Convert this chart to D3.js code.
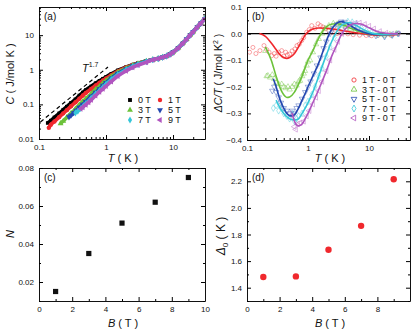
<!DOCTYPE html>
<html>
<head>
<meta charset="utf-8">
<script src="https://cdn.jsdelivr.net/npm/d3@7"></script>
<style>
body { margin: 0; background: #fff; }
text { font-family: Arial, "Liberation Sans", sans-serif; fill: #111; }
</style>
</head>
<body>
<svg width="415" height="332"></svg>
<script>
// ---------- panel (a): C vs T ----------
var fieldsA = ["0 T", "1 T", "3 T", "5 T", "7 T", "9 T"];
var t0T = [0.135, 0.15, 0.17, 0.2, 0.23, 0.26, 0.3, 0.35, 0.4, 0.45, 0.5, 0.6, 0.7, 0.8, 0.9, 1.0, 1.2, 1.5, 2.0, 2.5, 3.0, 4.0];
var c0T = [0.029, 0.034, 0.042, 0.055, 0.07, 0.086, 0.11, 0.14, 0.18, 0.22, 0.26, 0.33, 0.41, 0.48, 0.55, 0.62, 0.76, 0.96, 1.2, 1.4, 1.55, 1.8];
var t1T = [0.14, 0.15, 0.17, 0.2, 0.23, 0.26, 0.3, 0.35, 0.4, 0.45, 0.5, 0.6, 0.7, 0.8, 0.9, 1.0, 1.2, 1.5, 2.0, 2.5, 3.0, 4.0];
var c1T = [0.021, 0.026, 0.032, 0.043, 0.055, 0.068, 0.088, 0.115, 0.145, 0.18, 0.215, 0.28, 0.35, 0.42, 0.49, 0.56, 0.7, 0.9, 1.16, 1.37, 1.53, 1.8];
var t3T = [0.21, 0.23, 0.26, 0.3, 0.35, 0.4, 0.45, 0.5, 0.6, 0.7, 0.8, 0.9, 1.0, 1.2, 1.5, 2.0, 2.5, 3.0, 4.0];
var c3T = [0.028, 0.033, 0.042, 0.055, 0.074, 0.097, 0.12, 0.145, 0.2, 0.27, 0.33, 0.41, 0.48, 0.63, 0.84, 1.1, 1.33, 1.5, 1.78];
var t5T = [0.28, 0.3, 0.33, 0.36, 0.4, 0.45, 0.5, 0.6, 0.7, 0.8, 0.9, 1.0, 1.2, 1.5, 2.0, 2.5, 3.0, 4.0];
var c5T = [0.043, 0.048, 0.057, 0.067, 0.082, 0.1, 0.12, 0.17, 0.22, 0.28, 0.35, 0.42, 0.57, 0.78, 1.05, 1.28, 1.46, 1.75];
var t7T = [0.35, 0.38, 0.42, 0.46, 0.5, 0.6, 0.7, 0.8, 0.9, 1.0, 1.2, 1.5, 2.0, 2.5, 3.0, 4.0];
var c7T = [0.057, 0.064, 0.076, 0.09, 0.105, 0.15, 0.2, 0.25, 0.31, 0.38, 0.52, 0.72, 1.0, 1.24, 1.43, 1.72];
var t9T = [0.42, 0.45, 0.5, 0.55, 0.6, 0.7, 0.8, 0.9, 1.0, 1.2, 1.5, 2.0, 2.5, 3.0, 4.0];
var c9T = [0.075, 0.083, 0.098, 0.115, 0.135, 0.18, 0.23, 0.28, 0.34, 0.46, 0.66, 0.93, 1.17, 1.36, 1.65];
// above ~5 K all fields fall on one curve
var tHigh = [5, 6, 7, 8, 9, 10, 12, 14, 16, 18, 20, 23, 26, 30];
var cHigh = [1.95, 2.1, 2.3, 2.5, 2.8, 3.2, 4.3, 5.8, 7.7, 10, 12.5, 17, 22, 30];
// T^1.7 guide line end points
var tGuide = [0.105, 1.07];
var cGuide = [0.031, 1.2];

// ---------- panel (b): dC/T vs T ----------
var labelsB = ["1 T - 0 T", "3 T - 0 T", "5 T - 0 T", "7 T - 0 T", "9 T - 0 T"];
var tPts1 = [0.11, 0.125, 0.14, 0.163, 0.19, 0.21, 0.23, 0.254, 0.28, 0.3, 0.33, 0.37, 0.4, 0.43, 0.46, 0.5, 0.55, 0.61, 0.66, 0.72, 0.79, 0.85, 0.95, 1.05, 1.15, 1.3, 1.46, 1.6, 1.75, 1.9, 2.2, 2.5, 3, 3.5, 4.5, 5.5, 7, 9, 11, 14, 18, 23, 30];
var vPts1 = [-0.07, -0.052, -0.075, -0.064, -0.045, -0.06, -0.07, -0.083, -0.075, -0.085, -0.07, -0.064, -0.085, -0.07, -0.08, -0.077, -0.065, -0.058, -0.045, -0.04, -0.026, -0.015, 0.005, 0.015, 0.03, 0.02, 0.037, 0.03, 0.025, 0.018, 0.01, 0.005, 0.0, 0.0, -0.001, -0.004, -0.006, -0.007, -0.008, -0.007, -0.008, -0.007, 0.0];
var tFit1 = [0.16, 0.2, 0.25, 0.3, 0.35, 0.4, 0.45, 0.5, 0.6, 0.7, 0.8, 0.9, 1.0, 1.2, 1.5, 2, 3, 4, 6, 10, 15, 20, 30];
var vFit1 = [0.0, -0.01, -0.035, -0.06, -0.08, -0.09, -0.093, -0.09, -0.075, -0.05, -0.025, -0.005, 0.007, 0.017, 0.021, 0.02, 0.015, 0.01, 0.003, -0.003, -0.006, -0.006, -0.002];
var tPts3 = [0.2, 0.21, 0.22, 0.24, 0.26, 0.28, 0.3, 0.33, 0.37, 0.4, 0.43, 0.47, 0.5, 0.55, 0.6, 0.65, 0.7, 0.74, 0.8, 0.85, 0.89, 0.95, 1.0, 1.08, 1.2, 1.35, 1.5, 1.7, 1.9, 2.2, 2.6, 3, 3.5, 4.2, 5, 6, 8, 10, 13, 17, 22, 28];
var vPts3 = [-0.065, -0.16, -0.158, -0.165, -0.155, -0.17, -0.185, -0.19, -0.19, -0.2, -0.205, -0.2, -0.21, -0.2, -0.19, -0.195, -0.18, -0.177, -0.16, -0.15, -0.14, -0.12, -0.105, -0.1, -0.07, -0.04, -0.02, 0.0, 0.02, 0.03, 0.038, 0.036, 0.03, 0.025, 0.018, 0.012, 0.005, 0.0, -0.002, -0.004, -0.003, 0.0];
var tFit3 = [0.2, 0.25, 0.3, 0.35, 0.4, 0.45, 0.5, 0.6, 0.7, 0.8, 0.9, 1.0, 1.2, 1.4, 1.7, 2, 2.5, 3, 4, 5, 7, 10, 15, 20, 30];
var vFit3 = [-0.05, -0.1, -0.16, -0.205, -0.23, -0.24, -0.238, -0.22, -0.19, -0.16, -0.127, -0.1, -0.065, -0.03, 0.005, 0.025, 0.036, 0.037, 0.03, 0.02, 0.008, 0.0, -0.003, -0.002, 0.0];
var tPts5 = [0.26, 0.28, 0.3, 0.33, 0.36, 0.4, 0.45, 0.5, 0.55, 0.6, 0.65, 0.7, 0.8, 0.9, 1.0, 1.1, 1.25, 1.4, 1.6, 1.8, 2.0, 2.3, 2.6, 3, 3.5, 4, 4.7, 5.5, 6.5, 8, 10, 13, 18, 24, 30];
var vPts5 = [-0.215, -0.2, -0.22, -0.24, -0.26, -0.28, -0.29, -0.3, -0.29, -0.3, -0.28, -0.27, -0.245, -0.22, -0.2, -0.18, -0.15, -0.12, -0.09, -0.055, -0.03, 0.0, 0.02, 0.035, 0.045, 0.044, 0.035, 0.025, 0.015, 0.005, -0.002, -0.008, -0.012, -0.006, 0.0];
var tFit5 = [0.27, 0.3, 0.35, 0.4, 0.45, 0.5, 0.55, 0.6, 0.7, 0.8, 0.9, 1.0, 1.2, 1.5, 1.8, 2.1, 2.5, 3, 3.5, 4, 5, 6, 8, 10, 15, 20, 30];
var vFit5 = [-0.17, -0.2, -0.25, -0.28, -0.3, -0.308, -0.31, -0.305, -0.28, -0.25, -0.225, -0.2, -0.16, -0.11, -0.06, -0.015, 0.02, 0.04, 0.045, 0.043, 0.03, 0.018, 0.006, 0.0, -0.004, -0.003, 0.0];
var tPts7 = [0.27, 0.3, 0.33, 0.37, 0.4, 0.45, 0.5, 0.55, 0.6, 0.65, 0.7, 0.8, 0.9, 1.0, 1.15, 1.3, 1.5, 1.7, 2.0, 2.3, 2.7, 3.2, 3.8, 4.5, 5.3, 6.2, 7.5, 9, 11, 14, 18, 24, 30];
var vPts7 = [-0.28, -0.27, -0.29, -0.28, -0.3, -0.31, -0.32, -0.3, -0.33, -0.32, -0.31, -0.3, -0.27, -0.255, -0.23, -0.2, -0.16, -0.13, -0.085, -0.05, -0.015, 0.015, 0.035, 0.045, 0.043, 0.035, 0.022, 0.012, 0.004, -0.004, -0.008, -0.005, 0.0];
var tFit7 = [0.3, 0.35, 0.4, 0.5, 0.6, 0.7, 0.8, 0.9, 1.0, 1.2, 1.5, 2, 2.5, 3, 3.5, 4, 4.5, 5, 6, 8, 10, 15, 20, 30];
var vFit7 = [-0.25, -0.28, -0.3, -0.32, -0.325, -0.32, -0.3, -0.28, -0.26, -0.22, -0.16, -0.08, -0.025, 0.01, 0.03, 0.038, 0.042, 0.04, 0.032, 0.016, 0.005, -0.003, -0.004, 0.0];
var tPts9 = [0.5, 0.55, 0.6, 0.63, 0.68, 0.75, 0.85, 0.95, 1.05, 1.2, 1.35, 1.5, 1.7, 2.0, 2.3, 2.7, 3.1, 3.6, 4.2, 5, 6, 7, 8.5, 10, 12, 15, 19, 24, 30];
var vPts9 = [-0.3, -0.31, -0.35, -0.36, -0.34, -0.335, -0.33, -0.31, -0.29, -0.265, -0.24, -0.215, -0.18, -0.14, -0.1, -0.06, -0.03, 0.0, 0.02, 0.035, 0.04, 0.04, 0.035, 0.028, 0.018, 0.008, 0.002, -0.002, 0.0];
var tFit9 = [0.55, 0.6, 0.65, 0.7, 0.8, 0.9, 1.0, 1.2, 1.5, 2.0, 2.5, 3, 3.5, 4, 5, 6, 7, 8, 10, 13, 18, 25, 30];
var vFit9 = [-0.3, -0.33, -0.343, -0.347, -0.34, -0.32, -0.3, -0.26, -0.21, -0.14, -0.08, -0.04, -0.005, 0.015, 0.033, 0.038, 0.037, 0.033, 0.022, 0.01, 0.002, -0.001, 0.0];

// ---------- panels (c) and (d) ----------
var fieldB = [1, 3, 5, 7, 9];
var nValues = [0.015, 0.035, 0.051, 0.062, 0.075];
var gapValues = [1.48, 1.485, 1.685, 1.865, 2.215];

// ---------- styles ----------
var colors = ["#000000", "#f0282d", "#6cc23a", "#2347b0", "#35c6d8", "#b055bf"];
var shapes = ["square", "circle", "up", "down", "diamond", "left"];

var svg = d3.select("svg");

var symType = {square: d3.symbolSquare, circle: d3.symbolCircle, up: d3.symbolTriangle,
  down: d3.symbolTriangle, diamond: d3.symbolDiamond, left: d3.symbolTriangle};
var symRot = {down: 180, left: -90};

function marker(sel, kind, size, cx, cy) {
  sel.attr("d", d3.symbol().type(symType[kind]).size(size)())
    .attr("transform", function (d, i) {
      return "translate(" + cx(d, i) + "," + cy(d, i) + ")" + (symRot[kind] ? " rotate(" + symRot[kind] + ")" : "");
    });
}

function drawAxes(x, y, xMajor, xMinor, yMajor, yMinor, xFmt, yFmt) {
  var x0 = x.range()[0], x1 = x.range()[1];
  var yb = y.range()[0], yt = y.range()[1];
  var specs = [
    [d3.axisBottom(x), "translate(0," + yb + ")", xMajor, xMinor, xFmt],
    [d3.axisTop(x), "translate(0," + yt + ")", xMajor, xMinor, ""],
    [d3.axisLeft(y), "translate(" + x0 + ",0)", yMajor, yMinor, yFmt],
    [d3.axisRight(y), "translate(" + x1 + ",0)", yMajor, yMinor, ""]
  ];
  specs.forEach(function (s) {
    var ax = s[0].tickValues(s[2]).tickFormat(s[4]).tickSize(-4).tickSizeOuter(0).tickPadding(5);
    var g = svg.append("g").attr("transform", s[1]).call(ax);
    g.attr("font-size", 8).attr("font-family", "Arial, 'Liberation Sans', sans-serif");
    g.selectAll("text").attr("fill", "#222");
    var m = s[0].tickValues(s[3]).tickFormat("").tickSize(-2).tickSizeOuter(0);
    var gm = svg.append("g").attr("transform", s[1]).call(m);
    gm.select(".domain").remove();
  });
  svg.selectAll(".domain").attr("stroke", "#111").attr("stroke-width", 1);
}

function addText(x, y, str, size, anchor, rotate) {
  var t = svg.append("text").attr("font-size", size).attr("text-anchor", anchor || "start");
  if (rotate) t.attr("transform", "translate(" + x + "," + y + ") rotate(" + rotate + ")");
  else t.attr("x", x).attr("y", y);
  return t.text(str);
}

function clip(id, x, y) {
  svg.append("clipPath").attr("id", id).append("rect")
    .attr("x", x.range()[0]).attr("y", y.range()[1])
    .attr("width", x.range()[1] - x.range()[0]).attr("height", y.range()[0] - y.range()[1]);
  return svg.append("g").attr("clip-path", "url(#" + id + ")");
}

// ========== (a) ==========
var xa = d3.scaleLog().domain([0.1, 30]).range([39, 205]);
var ya = d3.scaleLog().domain([0.01, 65]).range([139, 7]);
var gA = clip("clipA", xa, ya);
var seriesA = [[t0T, c0T], [t1T, c1T], [t3T, c3T], [t5T, c5T], [t7T, c7T], [t9T, c9T]];
seriesA.forEach(function (s, k) {
  var pts = s[0].map(function (t, i) { return [t, s[1][i]]; })
    .concat(tHigh.map(function (t, i) { return [t, cHigh[i]]; }));
  gA.append("path").datum(pts)
    .attr("fill", "none").attr("stroke", colors[k]).attr("stroke-width", 3.6)
    .attr("d", d3.line().x(function (d) { return xa(d[0]); }).y(function (d) { return ya(d[1]); }).curve(d3.curveMonotoneX));
  gA.selectAll(null).data(pts).enter().append("path")
    .attr("fill", colors[k])
    .call(marker, shapes[k], k == 0 ? 13 : 15, function (d) { return xa(d[0]); }, function (d) { return ya(d[1]); });
});
gA.append("line")
  .attr("x1", xa(tGuide[0])).attr("y1", ya(cGuide[0]))
  .attr("x2", xa(tGuide[1])).attr("y2", ya(cGuide[1]))
  .attr("stroke", "#000").attr("stroke-width", 1.2).attr("stroke-dasharray", "4,3");
drawAxes(xa, ya, [0.1, 1, 10], [0.2, 0.3, 0.4, 0.5, 0.6, 0.7, 0.8, 0.9, 2, 3, 4, 5, 6, 7, 8, 9, 20, 30],
  [0.01, 0.1, 1, 10], [0.02, 0.03, 0.04, 0.05, 0.06, 0.07, 0.08, 0.09, 0.2, 0.3, 0.4, 0.5, 0.6, 0.7, 0.8, 0.9, 2, 3, 4, 5, 6, 7, 8, 9, 20, 30, 40, 50, 60],
  function (d) { return String(d); }, function (d) { return String(d); });

var tl = svg.append("text").attr("x", 82).attr("y", 72).attr("font-size", 11);
tl.append("tspan").attr("font-style", "italic").text("T");
tl.append("tspan").attr("font-size", 7).attr("dy", -5).text("1.7");

fieldsA.forEach(function (f, k) {
  var col = k % 2, row = Math.floor(k / 2);
  var mx = col ? 160 : 130, my = 100 + row * 10;
  svg.append("path").datum(0).attr("fill", colors[k])
    .call(marker, shapes[k], 15, function () { return mx; }, function () { return my; });
  addText(mx + 8, my + 3.2, f, 9);
});
addText(44, 20, "(a)", 10);
var la = svg.append("text").attr("font-size", 11).attr("text-anchor", "middle")
  .attr("transform", "translate(14,74) rotate(-90)");
la.append("tspan").attr("font-style", "italic").text("C");
la.append("tspan").text(" ( J/mol K )");
var lax = svg.append("text").attr("font-size", 11).attr("text-anchor", "middle").attr("x", 123).attr("y", 162);
lax.append("tspan").attr("font-style", "italic").text("T");
lax.append("tspan").text(" ( K )");

// ========== (b) ==========
var xb = d3.scaleLog().domain([0.1, 47]).range([247, 410]);
var yb = d3.scaleLinear().domain([-0.4, 0.1]).range([140, 7]);
var gB = clip("clipB", xb, yb);
gB.append("line").attr("x1", xb(0.1)).attr("x2", xb(47)).attr("y1", yb(0)).attr("y2", yb(0))
  .attr("stroke", "#000").attr("stroke-width", 1.4);
var ptsB = [[tPts1, vPts1], [tPts3, vPts3], [tPts5, vPts5], [tPts7, vPts7], [tPts9, vPts9]];
var fitsB = [[tFit1, vFit1], [tFit3, vFit3], [tFit5, vFit5], [tFit7, vFit7], [tFit9, vFit9]];
ptsB.forEach(function (s, k) {
  gB.selectAll(null).data(s[0]).enter().append("path")
    .attr("fill", "none").attr("stroke", colors[k + 1]).attr("stroke-width", 0.7).attr("opacity", 0.6)
    .call(marker, shapes[k + 1], 13, function (d) { return xb(d); }, function (d, i) { return yb(s[1][i]); });
});
fitsB.forEach(function (s, k) {
  gB.append("path").datum(s[0])
    .attr("fill", "none").attr("stroke", colors[k + 1]).attr("stroke-width", 1.6)
    .attr("d", d3.line().x(function (d) { return xb(d); }).y(function (d, i) { return yb(s[1][i]); }).curve(d3.curveMonotoneX));
});
drawAxes(xb, yb, [0.1, 1, 10], [0.2, 0.3, 0.4, 0.5, 0.6, 0.7, 0.8, 0.9, 2, 3, 4, 5, 6, 7, 8, 9, 20, 30, 40],
  [-0.4, -0.3, -0.2, -0.1, 0, 0.1], [-0.35, -0.25, -0.15, -0.05, 0.05],
  function (d) { return String(d); }, d3.format(".1f"));
labelsB.forEach(function (f, k) {
  var my = 80 + k * 9.5;
  svg.append("path").datum(0).attr("fill", "none").attr("stroke", colors[k + 1]).attr("stroke-width", 0.8)
    .call(marker, shapes[k + 1], 14, function () { return 354; }, function () { return my; });
  addText(362, my + 3.2, f, 9);
});
addText(252, 20, "(b)", 10);
var lb = svg.append("text").attr("font-size", 10.5).attr("text-anchor", "middle")
  .attr("transform", "translate(222,73) rotate(-90)");
lb.append("tspan").attr("font-style", "italic").text("ΔC/T");
lb.append("tspan").text(" ( J/mol K");
lb.append("tspan").attr("font-size", 7).attr("dy", -4).text("2");
lb.append("tspan").attr("dy", 4).text(" )");
var lbx = svg.append("text").attr("font-size", 11).attr("text-anchor", "middle").attr("x", 330).attr("y", 162);
lbx.append("tspan").attr("font-style", "italic").text("T");
lbx.append("tspan").text(" ( K )");

// ========== (c) ==========
var xc = d3.scaleLinear().domain([0, 10]).range([39, 205]);
var yc = d3.scaleLinear().domain([0.01, 0.08]).range([301, 168]);
svg.selectAll(null).data(fieldB).enter().append("rect")
  .attr("x", function (d) { return xc(d) - 2.6; })
  .attr("y", function (d, i) { return yc(nValues[i]) - 2.6; })
  .attr("width", 5.2).attr("height", 5.2).attr("fill", "#111");
drawAxes(xc, yc, [0, 2, 4, 6, 8, 10], [1, 3, 5, 7, 9], [0.02, 0.04, 0.06, 0.08], [0.01, 0.03, 0.05, 0.07],
  function (d) { return String(d); }, d3.format(".2f"));
addText(44, 181, "(c)", 10);
addText(14, 234, "N", 11, "middle", -90).attr("font-style", "italic");
var lcx = svg.append("text").attr("font-size", 11).attr("text-anchor", "middle").attr("x", 123).attr("y", 327);
lcx.append("tspan").attr("font-style", "italic").text("B");
lcx.append("tspan").text(" ( T )");

// ========== (d) ==========
var xd = d3.scaleLinear().domain([0, 10]).range([247, 410]);
var yd = d3.scaleLinear().domain([1.3, 2.3]).range([301, 168]);
svg.selectAll(null).data(fieldB).enter().append("circle")
  .attr("cx", function (d) { return xd(d); })
  .attr("cy", function (d, i) { return yd(gapValues[i]); })
  .attr("r", 3.2).attr("fill", "#f0282d");
drawAxes(xd, yd, [0, 2, 4, 6, 8], [1, 3, 5, 7, 9], [1.4, 1.6, 1.8, 2.0, 2.2], [1.3, 1.5, 1.7, 1.9, 2.1, 2.3],
  function (d) { return String(d); }, d3.format(".1f"));
addText(252, 181, "(d)", 10);
var ld = svg.append("text").attr("font-size", 12).attr("text-anchor", "middle")
  .attr("transform", "translate(225,236) rotate(-90)");
ld.append("tspan").attr("font-style", "italic").text("Δ");
ld.append("tspan").attr("font-size", 8).attr("dy", 3).text("0");
ld.append("tspan").attr("dy", -3).text(" ( K )");
var ldx = svg.append("text").attr("font-size", 11).attr("text-anchor", "middle").attr("x", 330).attr("y", 327);
ldx.append("tspan").attr("font-style", "italic").text("B");
ldx.append("tspan").text(" ( T )");
</script>
</body>
</html>
